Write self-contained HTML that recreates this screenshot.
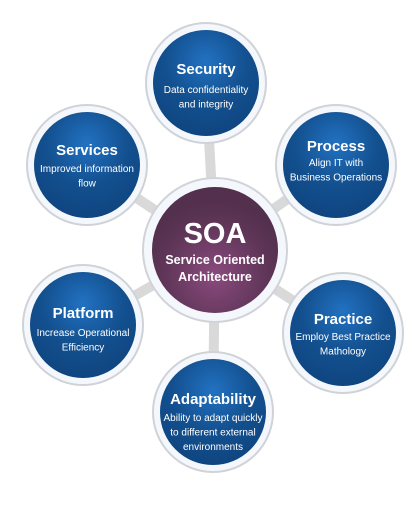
<!DOCTYPE html>
<html><head><meta charset="utf-8"><style>
body{margin:0;background:#fff;width:420px;height:500px;overflow:hidden}
svg text{font-family:"Liberation Sans",sans-serif;fill:#fff;text-anchor:middle}
</style></head><body>
<svg width="420" height="500">
<defs>
<radialGradient id="blue" cx="50%" cy="30%" r="70%"><stop offset="0" stop-color="#2272c2"/><stop offset="0.55" stop-color="#13508f"/><stop offset="1" stop-color="#0f4580"/></radialGradient>
<radialGradient id="purp" cx="50%" cy="70%" r="60%"><stop offset="0" stop-color="#8a4a7e"/><stop offset="0.7" stop-color="#5e3557"/><stop offset="1" stop-color="#53304d"/></radialGradient>
</defs>
<g id="spokes"></g>
<g id="nodes"></g>
<g>
<circle cx="215" cy="250" r="72" fill="#f4f8fc" stroke="#d0d4d8" stroke-width="2"/>
<circle cx="215" cy="250" r="63" fill="url(#purp)"/>
<text x="215" y="243" font-size="29" font-weight="bold">SOA</text>
<text x="215" y="264" font-size="12.5" font-weight="bold">Service Oriented</text>
<text x="215" y="281" font-size="12.5" font-weight="bold">Architecture</text>
</g>
</svg>
<script>
// id, cx, cy, title baseline, first desc baseline, title, desc lines
const nodes=[
 ["security",206,83,74,93,"Security",["Data confidentiality","and integrity"]],
 ["process",336,165,151,166,"Process",["Align IT with","Business Operations"]],
 ["practice",343,333,324,340,"Practice",["Employ Best Practice","Mathology"]],
 ["adaptability",213,412,404,421,"Adaptability",["Ability to adapt quickly","to different external","environments"]],
 ["platform",83,325,318,336,"Platform",["Increase Operational","Efficiency"]],
 ["services",87,165,155,172,"Services",["Improved information","flow"]]
];
const NS="http://www.w3.org/2000/svg";
const sp=document.getElementById('spokes'),ng=document.getElementById('nodes');
function mk(t,a,p){const e=document.createElementNS(NS,t);for(const k in a)e.setAttribute(k,a[k]);p.appendChild(e);return e;}
nodes.forEach(n=>{
 const l=mk('line',{x1:215,y1:250,x2:n[1],y2:n[2],stroke:'#d9d9d9','stroke-width':10},sp);
 
 
 const g=mk('g',{},ng);
 
 
 mk('circle',{cx:n[1],cy:n[2],r:60,fill:'#f4f8fc',stroke:'#cfd3d7','stroke-width':2},g);
 mk('circle',{cx:n[1],cy:n[2],r:53,fill:'url(#blue)'},g);
 const t=mk('text',{x:n[1],y:n[3],'font-size':15,'font-weight':'bold'},g);t.textContent=n[5];
 
 
 n[6].forEach((s,i)=>{const d=mk('text',{x:n[1],y:n[4]+i*14.5,'font-size':10},g);d.textContent=s;
  
  });
});
</script>
</body></html>
